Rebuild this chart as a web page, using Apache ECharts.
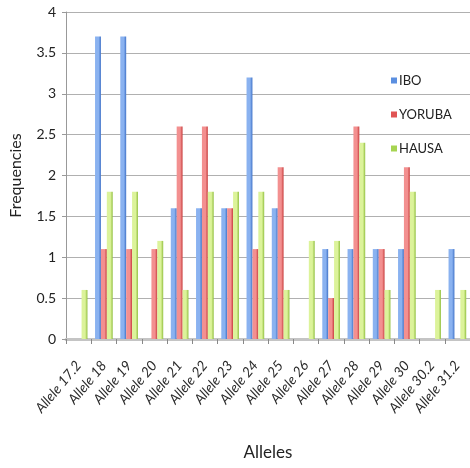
<!DOCTYPE html>
<html><head><meta charset="utf-8">
<script src="https://cdn.jsdelivr.net/npm/echarts@6/dist/echarts.min.js"></script>
<style>html,body{margin:0;padding:0;background:#fff}#c{width:470px;height:468px}</style>
</head><body><div id="c"></div>
<script>
const categories = ['Allele 17.2','Allele 18','Allele 19','Allele 20','Allele 21','Allele 22','Allele 23','Allele 24','Allele 25','Allele 26','Allele 27','Allele 28','Allele 29','Allele 30','Allele 30.2','Allele 31.2'];
const ibo    = [0, 3.7, 3.7, 0, 1.6, 1.6, 1.6, 3.2, 1.6, 0, 1.1, 1.1, 1.1, 1.1, 0, 1.1];
const yoruba = [0, 1.1, 1.1, 1.1, 2.6, 2.6, 1.6, 1.1, 2.1, 0, 0.5, 2.6, 1.1, 2.1, 0, 0];
const hausa  = [0.6, 1.8, 1.8, 1.2, 0.6, 1.8, 1.8, 1.8, 0.6, 1.2, 1.2, 2.4, 0.6, 1.8, 0.6, 0.6];
const yTicks = [0, 0.5, 1, 1.5, 2, 2.5, 3, 3.5, 4];

const font = 'Lato, "Open Sans", sans-serif';
function grad(light, dark) {
  return new echarts.graphic.LinearGradient(0, 0, 1, 0, [
    {offset: 0, color: light}, {offset: 0.6, color: light}, {offset: 1, color: dark}
  ]);
}
const chart = echarts.init(document.getElementById('c'));
chart.setOption({
  animation: false,
  textStyle: {fontFamily: font},
  grid: {left: 62, right: -4, top: 12, bottom: 129},
  legend: {
    orient: 'vertical', left: 386, top: 69, itemWidth: 6, itemHeight: 6, itemGap: 21,
    icon: 'rect',
    textStyle: {fontFamily: font, fontSize: 13, color: '#222', padding: [0, 0, 0, -3]},
    data: [
      {name: 'IBO', itemStyle: {color: '#5b8fe0'}},
      {name: 'YORUBA', itemStyle: {color: '#e05454'}},
      {name: 'HAUSA', itemStyle: {color: '#a6d451'}}
    ]
  },
  xAxis: {
    type: 'category', data: categories,
    name: 'Alleles', nameLocation: 'middle', nameGap: 105,
    nameTextStyle: {fontFamily: font, fontSize: 17, color: '#222'},
    axisLine: {show: true, lineStyle: {color: '#c4c4c4', width: 3}},
    axisTick: {show: true, alignWithLabel: false, length: 5, lineStyle: {color: '#888'}},
    axisLabel: {rotate: 50, fontSize: 14, color: '#2a2a2a', fontStyle: 'italic', margin: 24, interval: 0}
  },
  yAxis: {
    type: 'value', min: 0, max: 4, interval: 0.5,
    name: 'Frequencies', nameLocation: 'middle', nameGap: 42,
    nameTextStyle: {fontFamily: font, fontSize: 16, color: '#222'},
    axisLine: {show: true, lineStyle: {color: '#999'}},
    axisTick: {show: true, length: 4, lineStyle: {color: '#999'}},
    axisLabel: {fontSize: 14, color: '#222', margin: 10,
      formatter: v => yTicks.includes(v) ? String(v) : ''},
    splitLine: {lineStyle: {color: '#b0b0b0', width: 1}}
  },
  series: [
    {name: 'IBO', type: 'bar', data: ibo, barGap: '0%', barCategoryGap: '30%',
      itemStyle: {color: grad('#8ab2f0', '#3f72c8')}},
    {name: 'YORUBA', type: 'bar', data: yoruba, barGap: '0%', barCategoryGap: '30%',
      itemStyle: {color: grad('#f39090', '#c83c3c')}},
    {name: 'HAUSA', type: 'bar', data: hausa, barGap: '0%', barCategoryGap: '30%',
      itemStyle: {color: grad('#dcf39a', '#92c040')}}
  ]
});
</script></body></html>
